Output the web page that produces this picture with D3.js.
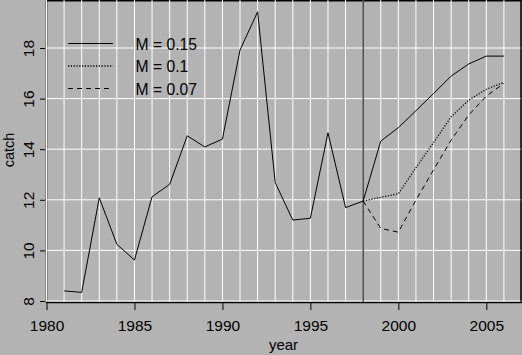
<!DOCTYPE html>
<html>
<head>
<meta charset="utf-8">
<script src="https://cdn.jsdelivr.net/npm/d3@7"></script>
<style>
  body { margin: 0; background: #b3b3b3; }
  svg { display: block; font-family: "Liberation Sans", Arial, sans-serif; }
</style>
</head>
<body>
<svg></svg>
<script>
const svgWidth = 522;
const svgHeight = 355;

// historical catch
const histYears = d3.range(1981, 1999);
const histCatch = [8.40, 8.34, 12.08, 10.24, 9.62, 12.12, 12.61, 14.53, 14.09,
                   14.40, 17.92, 19.43, 12.68, 11.20, 11.27, 14.65, 11.69, 11.95];

// projections from 1998
const projYears = d3.range(1998, 2007);
const catchM015 = [11.95, 14.32, 14.85, 15.52, 16.20, 16.89, 17.37, 17.68, 17.68];
const catchM01  = [11.95, 12.10, 12.24, 13.27, 14.26, 15.28, 15.94, 16.37, 16.64];
const catchM007 = [11.95, 10.87, 10.72, 11.99, 13.18, 14.36, 15.35, 16.10, 16.60];

const legendLabels = ["M = 0.15", "M = 0.1", "M = 0.07"];
const dashes = [null, "1.2,1.6", "5,4"];
const widths = [1, 1.3, 1];

const xTicks = [1980, 1985, 1990, 1995, 2000, 2005];
const yTicks = [8, 10, 12, 14, 16, 18];

const svg = d3.select("svg")
    .attr("width", svgWidth)
    .attr("height", svgHeight);

const x = d3.scaleLinear().domain([1980, 2007]).range([46.5, 521.5]);
const y = d3.scaleLinear().domain([8, 18]).range([301, 48]);

// Panel frame
svg.append("rect")
    .attr("x", 46.5).attr("y", 0.75)
    .attr("width", 474.5).attr("height", 301.75)
    .attr("fill", "#b3b3b3")
    .attr("stroke", "black")
    .attr("stroke-width", 1.5);

// White grid
svg.append("g")
    .selectAll("line")
    .data(d3.range(1980, 2007))
    .enter().append("line")
    .attr("x1", d => x(d)).attr("x2", d => x(d))
    .attr("y1", 0).attr("y2", 301.5)
    .attr("stroke", "white").attr("stroke-width", 1);

svg.append("g")
    .selectAll("line")
    .data(yTicks)
    .enter().append("line")
    .attr("x1", 46.5).attr("x2", 520.5)
    .attr("y1", d => y(d)).attr("y2", d => y(d))
    .attr("stroke", "white").attr("stroke-width", 1);

// Vertical marker at 1998
svg.append("line")
    .attr("x1", x(1998)).attr("x2", x(1998))
    .attr("y1", 0).attr("y2", 302)
    .attr("stroke", "black").attr("stroke-width", 1);

// Lines
const line = d3.line().x(d => x(d[0])).y(d => y(d[1]));

svg.append("path")
    .datum(histYears.map((yr, i) => [yr, histCatch[i]]))
    .attr("d", line)
    .attr("fill", "none").attr("stroke", "black").attr("stroke-width", 1);

[catchM015, catchM01, catchM007].forEach((vals, k) => {
    svg.append("path")
        .datum(projYears.map((yr, i) => [yr, vals[i]]))
        .attr("d", line)
        .attr("fill", "none")
        .attr("stroke", "black")
        .attr("stroke-width", widths[k])
        .attr("stroke-dasharray", dashes[k]);
});

// Legend
const legend = svg.append("g");
legendLabels.forEach((lab, k) => {
    const ly = 43.5 + k * 22.5;
    legend.append("line")
        .attr("x1", 68).attr("x2", 113)
        .attr("y1", ly).attr("y2", ly)
        .attr("stroke", "black").attr("stroke-width", widths[k])
        .attr("stroke-dasharray", dashes[k]);
    legend.append("text")
        .attr("x", 135.5).attr("y", ly + 6)
        .style("font-size", "15.7px")
        .text(lab);
});

// x axis
const xAxis = svg.append("g")
    .attr("transform", "translate(0,303)")
    .call(d3.axisBottom(x).tickValues(xTicks).tickFormat(d3.format("d")).tickSize(7));
xAxis.select(".domain").remove();
xAxis.selectAll("line").attr("stroke", "black");
xAxis.selectAll("text")
    .attr("y", 27.7).attr("dy", null)
    .attr("fill", "black")
    .style("font-size", "15.5px")
    .style("font-family", "Liberation Sans, Arial, sans-serif");

// y axis
const yAxis = svg.append("g")
    .attr("transform", "translate(45,0)")
    .call(d3.axisLeft(y).tickValues(yTicks).tickSize(5));
yAxis.select(".domain").remove();
yAxis.selectAll("line").attr("stroke", "black");
yAxis.selectAll("text")
    .attr("x", null).attr("dy", null)
    .attr("transform", "translate(-11.5,0) rotate(-90)")
    .attr("text-anchor", "middle")
    .attr("fill", "black")
    .style("font-size", "15.5px")
    .style("font-family", "Liberation Sans, Arial, sans-serif");

// Axis labels
svg.append("text")
    .attr("x", 283.5).attr("y", 350)
    .style("text-anchor", "middle")
    .style("font-size", "15px")
    .text("year");

svg.append("text")
    .attr("transform", "translate(14,150) rotate(-90)")
    .style("text-anchor", "middle")
    .style("font-size", "14.5px")
    .text("catch");
</script>
</body>
</html>
